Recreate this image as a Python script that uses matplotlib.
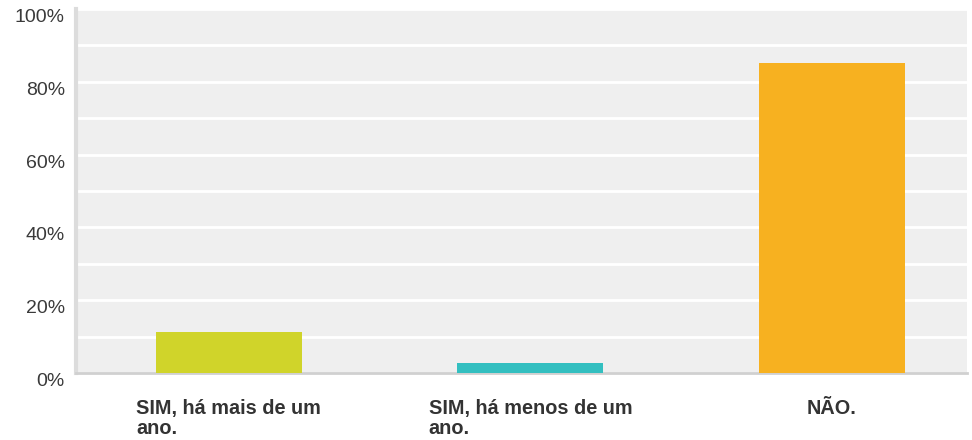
import matplotlib.pyplot as plt
from matplotlib.ticker import MultipleLocator

plt.rcParams['font.family'] = ['Liberation Sans', 'DejaVu Sans']

# dados
labels = ['SIM, há mais de um\nano.', 'SIM, há menos de um\nano.', 'NÃO.']
values = [11.3, 2.75, 85.3]
colors = ['#d0d42a', '#33bfc0', '#f7b120']

fig = plt.figure(figsize=(9.72, 4.4), dpi=100)
ax = fig.add_axes([76/972, 1-373/440, 891/972, 364/440])
ax.set_facecolor('#efefef')

pos = list(range(len(values)))
ax.bar(pos, values, 0.484, color=colors, zorder=3)

ax.set_xlim(-0.507, 2.448)
ax.set_ylim(0, 100)
ax.yaxis.set_minor_locator(MultipleLocator(10))
ax.grid(True, which='both', axis='y', color='white', linewidth=2, zorder=1)
ax.set_yticks([0, 20, 40, 60, 80, 100])
ax.set_yticklabels(['0%', '20%', '40%', '60%', '80%', '100%'], fontsize=14,
                   color='#3a3a3a', va='top')
ax.tick_params(axis='y', which='both', length=0, pad=8)

ax.set_xticks(pos)
ax.set_xticklabels(labels, fontsize=14.3, fontweight='bold', color='#333333',
                   multialignment='left', linespacing=1.05)
ax.tick_params(axis='x', length=0, pad=19)

for s in ['top', 'right']:
    ax.spines[s].set_visible(False)
ax.spines['left'].set_color('#dcdcdc')
ax.spines['left'].set_linewidth(3)
ax.spines['bottom'].set_color('#d0d0d0')
ax.spines['bottom'].set_linewidth(2)

plt.savefig('out.png', dpi=100)
